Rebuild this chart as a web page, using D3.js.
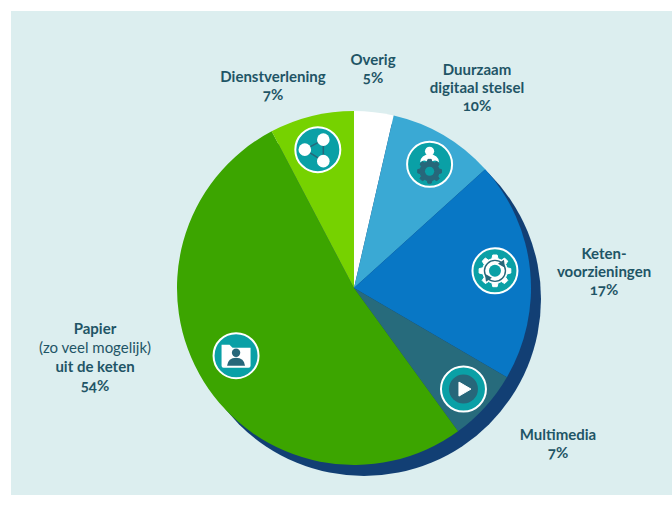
<!DOCTYPE html>
<html><head><meta charset="utf-8">
<script src="https://cdn.jsdelivr.net/npm/d3@7/dist/d3.min.js"></script>
<style>html,body{margin:0;padding:0;background:#fff}svg{display:block}
text{font-family:Lato,"Open Sans",sans-serif;fill:#1f5566;text-anchor:middle;font-weight:700;font-size:15px;font-feature-settings:"onum" 1}
.reg{font-weight:400}</style></head><body><div id="c"></div>
<script>
const categories=["Overig","Duurzaam digitaal stelsel","Ketenvoorzieningen","Multimedia","Papier","Dienstverlening"];
const shares=[3.6,9.7,20.1,6.6,52.3,7.7];
const colours=["#ffffff","#3aa9d4","#0877c5","#276b7c","#3ca500","#76d200"];
const labelPercents=["5%","10%","17%","7%","54%","7%"];
const labelLines=[["Overig"],["Duurzaam","digitaal stelsel"],["Keten-","voorzieningen"],["Multimedia"],["Papier","(zo veel mogelijk)","uit de keten"],["Dienstverlening"]];
const labelX=[373,477,604,558,95,273];
const labelY=[65,75,259,440,334,82];
const lineGap=[18,18,18,18,19,18];
const iconRadius=[null,145,142,149,136,143];
const iconShift=[0,1,-1,.6,2,-.8];

const W=672,H=506,cx=354,cy=288,R=177;
const svg=d3.select("#c").append("svg").attr("width",W).attr("height",H);
svg.append("rect").attr("x",11).attr("y",11).attr("width",W-11).attr("height",484).attr("fill","#dceeef");
svg.append("circle").attr("cx",cx+10).attr("cy",cy+11).attr("r",R).attr("fill","#123f74");
const g=svg.append("g").attr("transform",`translate(${cx},${cy})`);
const pie=d3.pie().sort(null).value(d=>d)(shares);
const arc=d3.arc().innerRadius(0).outerRadius(R);
g.selectAll("path.s").data(pie).join("path").attr("class","s").attr("d",arc).attr("fill",(d,i)=>colours[i]);

const teal="#0aa0a6",dark="#27677a";
const icons=[null,
 s=>{ // person + gear
  s.append("circle").attr("cy",-13).attr("r",4.6).attr("fill","#fff");
  s.append("path").attr("d","M-9.5,-2 A9.5,8 0 0 1 9.5,-2 Q6,-5 3,-3 Q0,-5 -3,-3 Q-6,-5 -9.5,-2Z").attr("fill","#fff");
  gear(s,0,7,12,9.6,8,dark); s.append("circle").attr("cy",7).attr("r",4.6).attr("fill",teal);
 },
 s=>{ // gear with arrows
  gear(s,0,0,16,12.5,8,"#fff"); s.append("circle").attr("r",10.5).attr("fill","none").attr("stroke",dark).attr("stroke-width",1.4);
  s.append("circle").attr("r",6).attr("fill",teal);
  s.append("path").attr("d","M-10,3 L-9,11 L-3,7Z M10,-3 L9,-11 L3,-7Z").attr("fill",dark);
 },
 s=>{ // play
  s.append("circle").attr("r",14.5).attr("fill",dark);
  s.append("path").attr("d","M-4.5,-7 L7.5,0 L-4.5,7Z").attr("fill","#fff").attr("stroke","#fff").attr("stroke-linejoin","round");
 },
 s=>{ // folder + person
  s.append("path").attr("d","M-14.5,-11 h8 l3,3 h18 v18 q0,2 -2,2 h-25 q-2,0 -2,-2Z").attr("fill","#fff");
  s.append("circle").attr("cy",-3).attr("r",4.2).attr("fill",dark);
  s.append("path").attr("d","M-9,10 Q-8,2 0,2 Q8,2 9,10Z").attr("fill",dark);
 },
 s=>{ // network
  const pts=[[-13,0],[5.5,-10],[5.5,11.5]];
  s.append("path").attr("d","M-13,0 L5.5,-10 L5.5,11.5Z").attr("fill","none").attr("stroke",dark).attr("stroke-width",1.5);
  s.selectAll("circle.n").data(pts).join("circle").attr("class","n").attr("cx",d=>d[0]).attr("cy",d=>d[1]).attr("r",6.3).attr("fill","#fff");
 }];
function gear(s,x,y,ro,ri,n,fill){
  const p=[];
  for(let i=0;i<n;i++){const a=i*2*Math.PI/n,w=Math.PI/n*.5;
    [[a-w*1.25,ri],[a-w*.7,ro],[a+w*.7,ro],[a+w*1.25,ri]].forEach(([t,r])=>p.push([x+r*Math.sin(t),y-r*Math.cos(t)]));}
  s.append("path").attr("d",d3.line()(p)+"Z").attr("fill",fill).attr("stroke",fill).attr("stroke-linejoin","round");
}
pie.forEach((d,i)=>{
  if(!icons[i])return;
  const mid=(d.startAngle+d.endAngle)/2+iconShift[i]*Math.PI/180;
  const [x,y]=d3.arc().innerRadius(iconRadius[i]).outerRadius(iconRadius[i]).centroid({startAngle:mid,endAngle:mid});
  const s=g.append("g").attr("transform",`translate(${x},${y})`);
  s.append("circle").attr("r",22.5).attr("fill",teal).attr("stroke","#fff").attr("stroke-width",2);
  icons[i](s);
});
categories.forEach((c,i)=>{
  const t=svg.append("text").attr("x",labelX[i]).attr("y",labelY[i]);
  const rows=labelLines[i].concat(labelPercents[i]);
  rows.forEach((r,j)=>t.append("tspan").attr("x",labelX[i]).attr("dy",j?lineGap[i]:0).attr("class",r.startsWith("(")?"reg":null).text(r));
});
</script></body></html>
